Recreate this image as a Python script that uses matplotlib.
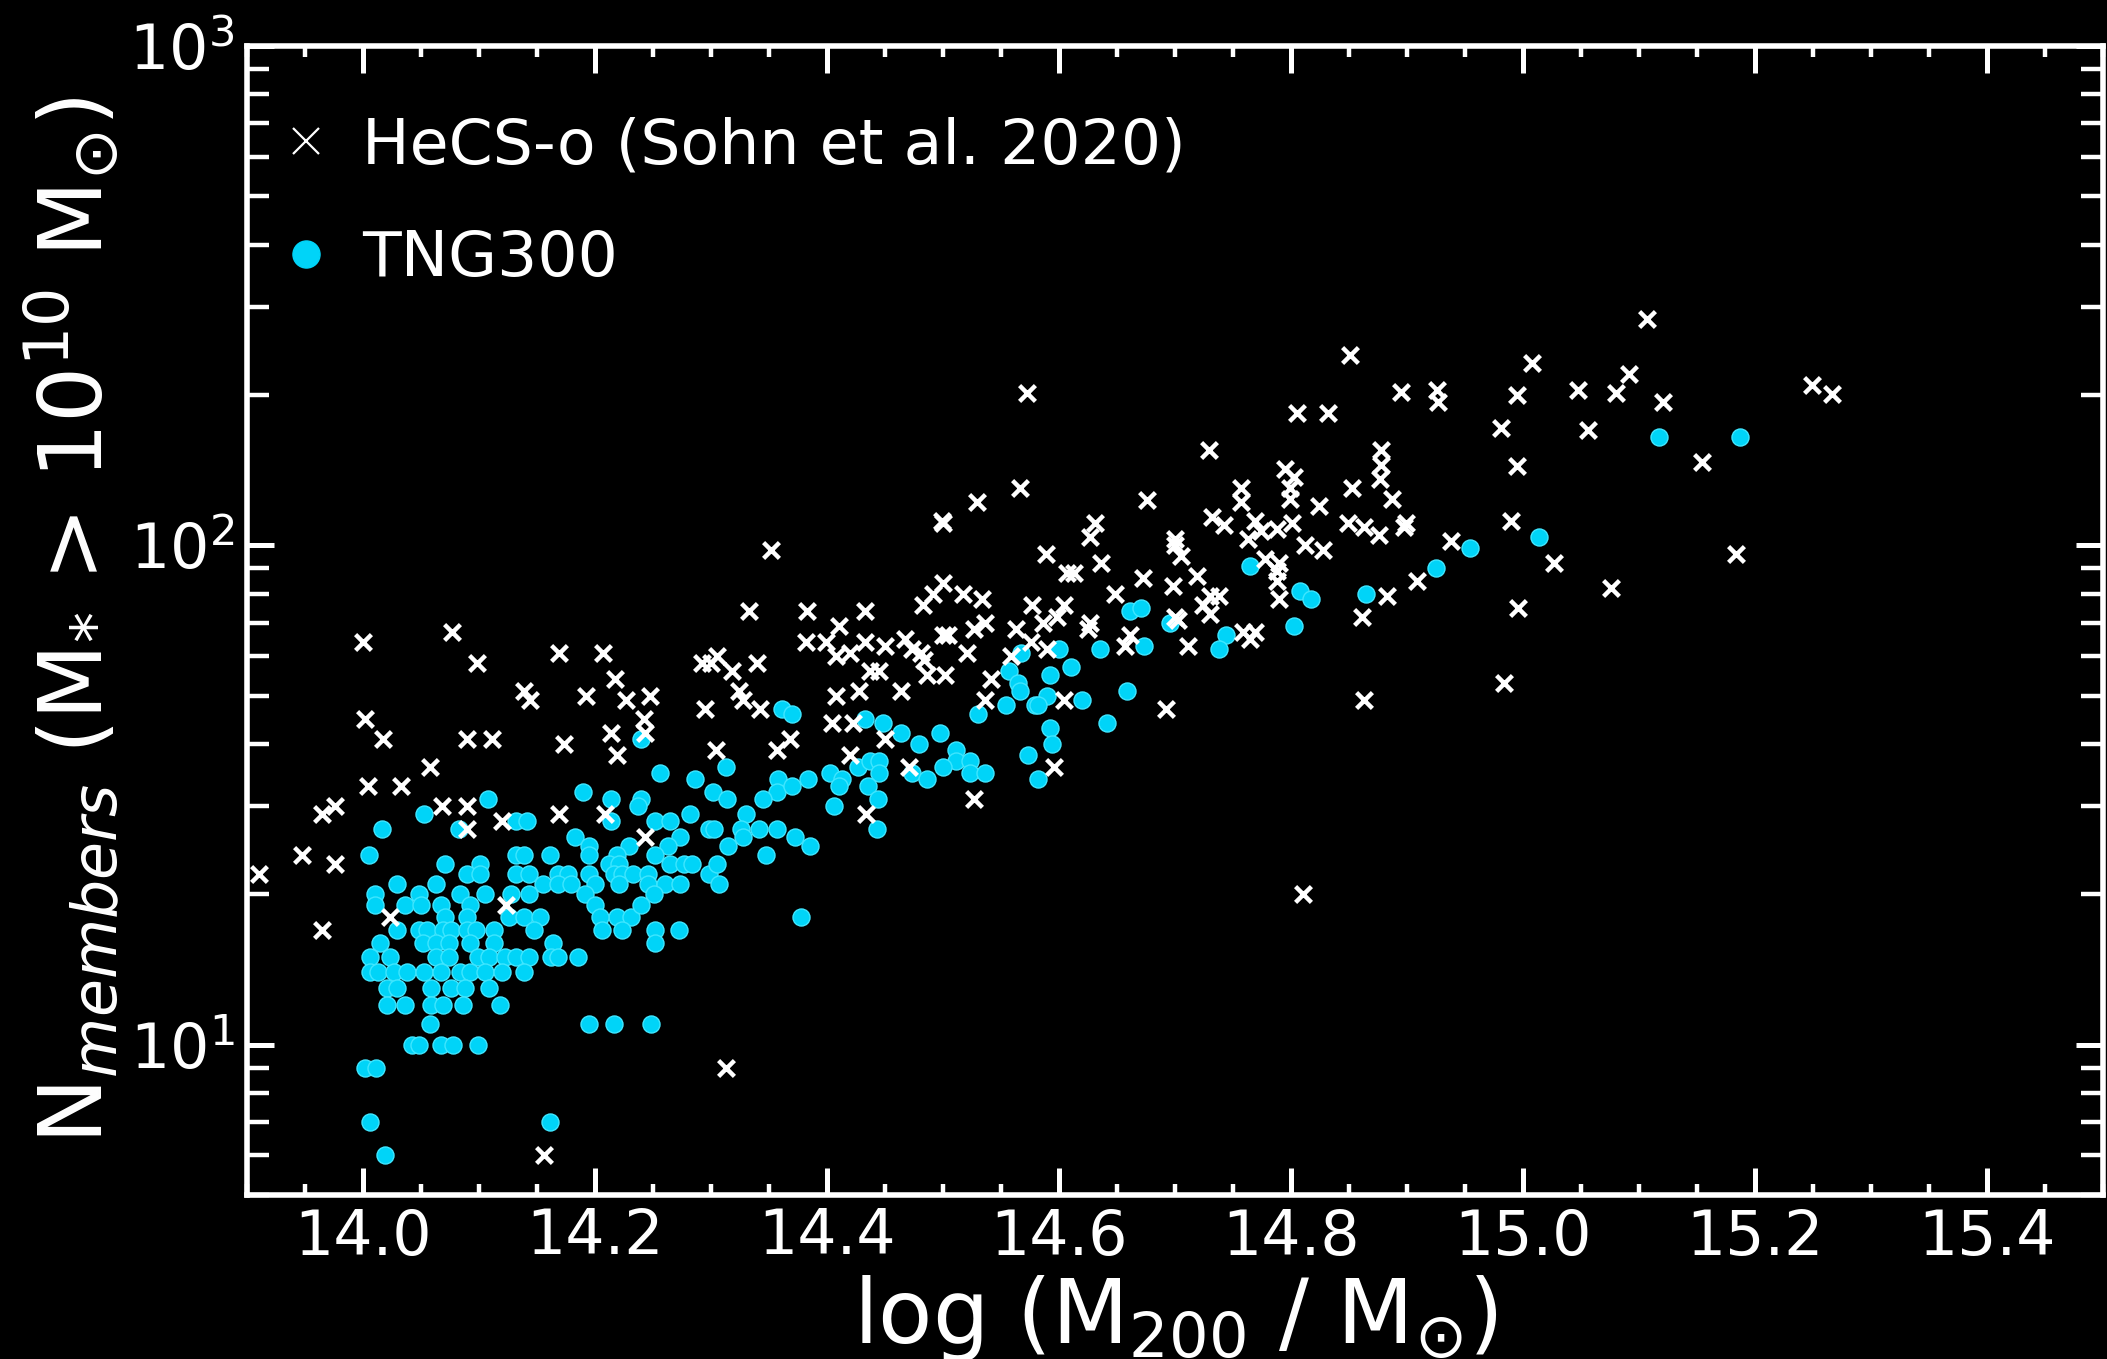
import matplotlib
matplotlib.use("Agg")
import matplotlib.pyplot as plt
from matplotlib.lines import Line2D
from matplotlib.ticker import MultipleLocator, FormatStrFormatter, NullFormatter, LogLocator

# HeCS-o (Sohn et al. 2020): log M200 and number of members
hecs_logm = [
    14.000, 14.077, 14.098, 14.169, 14.207, 14.139, 14.144, 14.192, 14.217, 14.227,
    14.247, 14.242, 14.243, 14.214, 14.219, 14.173, 14.002, 14.017, 14.090, 14.111,
    14.058, 14.004, 14.033, 13.965, 13.976, 14.068, 14.090, 14.090, 14.120, 14.169,
    14.209, 13.947, 13.976, 13.910, 13.965, 14.023, 14.123, 14.243, 14.313, 14.156,
    14.292, 14.300, 14.305, 14.318, 14.340, 14.333, 14.383, 14.433, 14.410, 14.382,
    14.399, 14.408, 14.420, 14.433, 14.450, 14.437, 14.445, 14.408, 14.428, 14.324,
    14.328, 14.342, 14.295, 14.404, 14.422, 14.368, 14.357, 14.304, 14.420, 14.450,
    14.434, 14.352,
    14.851, 14.895, 14.926, 14.927, 14.572, 14.805, 14.832, 14.729, 14.878, 14.878,
    14.877, 14.795, 14.803, 14.799, 14.799, 14.566, 14.757, 14.757, 14.853, 14.824,
    14.887, 14.529, 14.676, 14.499, 14.500, 14.631, 14.627, 14.732, 14.742, 14.769,
    14.774, 14.788, 14.801, 14.849, 14.863, 14.876, 14.897, 14.899, 14.700, 14.700,
    14.705, 14.763, 14.812, 14.828, 14.938, 14.589, 14.636, 14.607, 14.613, 14.790,
    14.788, 14.778, 14.788, 14.719, 14.672, 14.500, 14.517, 14.534, 14.909, 14.648,
    14.698, 14.790, 14.883, 14.730, 14.738, 14.724, 14.730, 14.577, 14.604, 14.598,
    14.861, 14.536, 14.527, 14.563, 14.586, 14.627, 14.625, 14.700, 14.703, 14.500,
    14.504, 14.759, 14.769, 14.765, 14.661, 14.657, 14.711, 14.576, 14.521, 14.559,
    14.590, 14.486, 14.502, 14.541, 14.536, 14.604, 14.692, 14.863, 14.596, 14.527,
    14.810, 14.491, 14.483, 14.467, 14.473, 14.481, 14.484, 14.464, 14.471,
    15.107, 15.008, 15.091, 14.995, 15.047, 15.080, 15.121, 15.249, 15.266, 14.981,
    15.056, 15.154, 14.995, 14.990, 15.027, 15.184, 15.076, 14.996, 14.984,
]
hecs_n = [
    64, 67, 58, 61, 61, 51, 49, 50, 54, 49,
    50, 45, 42, 42, 38, 40, 45, 41, 41, 41,
    36, 33, 33, 29, 30, 30, 30, 27, 28, 29,
    29, 24, 23, 22, 17, 18, 19, 26, 9, 6,
    58, 58, 60, 56, 58, 74, 74, 74, 69, 64,
    64, 60, 61, 64, 63, 56, 56, 50, 51, 51,
    49, 47, 47, 44, 44, 41, 39, 39, 38, 41,
    29, 98,
    241, 203, 205, 194, 202, 184, 184, 155, 155, 145,
    136, 142, 137, 130, 124, 130, 130, 122, 130, 120,
    124, 122, 123, 112, 111, 111, 104, 114, 110, 112,
    107, 108, 111, 111, 109, 105, 109, 111, 103, 100,
    95, 103, 100, 98, 102, 96, 92, 88, 88, 92,
    89, 94, 85, 87, 86, 84, 80, 78, 85, 80,
    83, 78, 79, 79, 79, 76, 73, 76, 76, 72,
    72, 70, 68, 68, 70, 70, 68, 72, 71, 66,
    66, 67, 67, 65, 66, 63, 63, 64, 61, 60,
    62, 55, 55, 54, 49, 49, 47, 49, 36, 31,
    20, 80, 76, 65, 62, 61, 59, 51, 36,
    284, 232, 220, 200, 205, 202, 194, 209, 201, 172,
    170, 147, 144, 112, 92, 96, 82, 75, 53,
]

# TNG300 halos
tng_logm = [
    14.361, 14.370, 14.433, 14.448, 14.240, 14.313, 14.256, 14.286, 14.384, 14.403,
    14.413, 14.410, 14.358, 14.357, 14.370, 14.427, 14.437, 14.445, 14.445, 14.435,
    14.444, 14.443, 14.190, 14.302, 14.314, 14.214, 14.108, 14.240, 14.237, 14.345,
    14.406, 14.053, 14.282, 14.330, 14.132, 14.141, 14.214, 14.252, 14.265, 14.016,
    14.083, 14.298, 14.303, 14.326, 14.341, 14.357, 14.372, 14.385, 14.328, 14.183,
    14.195, 14.273, 14.263, 14.229, 14.315, 14.252, 14.005, 14.132, 14.139, 14.161,
    14.347, 14.071, 14.101, 14.195, 14.219, 14.212, 14.221, 14.265, 14.277, 14.284,
    14.298, 14.305, 14.090, 14.101, 14.132, 14.143, 14.168, 14.177, 14.195, 14.200,
    14.216, 14.223, 14.233, 14.246, 14.029, 14.063, 14.155, 14.168, 14.179, 14.221,
    14.246, 14.260, 14.273, 14.307, 14.010, 14.048, 14.084, 14.105, 14.128, 14.143,
    14.191, 14.251, 14.010, 14.036, 14.050, 14.067, 14.092, 14.126, 14.139, 14.200,
    14.219, 14.231, 14.240, 14.071, 14.090, 14.153, 14.204, 14.378, 14.029, 14.048,
    14.055, 14.069, 14.076, 14.090, 14.097, 14.113, 14.147, 14.206, 14.223, 14.252,
    14.272, 14.015, 14.052, 14.063, 14.074, 14.092, 14.113, 14.164, 14.252, 14.006,
    14.023, 14.063, 14.074, 14.099, 14.109, 14.122, 14.132, 14.143, 14.162, 14.168,
    14.185, 14.006, 14.013, 14.027, 14.038, 14.053, 14.067, 14.084, 14.092, 14.105,
    14.120, 14.139, 14.021, 14.029, 14.059, 14.076, 14.088, 14.109, 14.021, 14.036,
    14.059, 14.069, 14.086, 14.118, 14.058, 14.195, 14.216, 14.248, 14.042, 14.048,
    14.067, 14.078, 14.099, 14.002, 14.011, 14.006, 14.161, 14.019,
    14.954, 14.925, 14.765, 14.865, 14.808, 14.817, 14.803, 14.661, 14.671, 14.696,
    14.744, 14.738, 14.600, 14.635, 14.673, 14.567, 14.557, 14.565, 14.566, 14.592,
    14.610, 14.590, 14.620, 14.659, 14.530, 14.554, 14.579, 14.582, 14.592, 14.594,
    14.641, 14.464, 14.497, 14.479, 14.511, 14.511, 14.523, 14.500, 14.523, 14.536,
    14.473, 14.486, 14.573, 14.582,
    15.117, 15.187, 15.014,
]
tng_n = [
    47, 46, 45, 44, 41, 36, 35, 34, 34, 35,
    34, 33, 34, 32, 33, 36, 37, 37, 35, 33,
    31, 27, 32, 32, 31, 31, 31, 31, 30, 31,
    30, 29, 29, 29, 28, 28, 28, 28, 28, 27,
    27, 27, 27, 27, 27, 27, 26, 25, 26, 26,
    25, 26, 25, 25, 25, 24, 24, 24, 24, 24,
    24, 23, 23, 24, 24, 23, 23, 23, 23, 23,
    22, 23, 22, 22, 22, 22, 22, 22, 22, 21,
    22, 22, 22, 22, 21, 21, 21, 21, 21, 21,
    21, 21, 21, 21, 20, 20, 20, 20, 20, 20,
    20, 20, 19, 19, 19, 19, 19, 18, 18, 19,
    18, 18, 19, 18, 18, 18, 18, 18, 17, 17,
    17, 17, 17, 17, 17, 17, 17, 17, 17, 17,
    17, 16, 16, 16, 16, 16, 16, 16, 16, 15,
    15, 15, 15, 15, 15, 15, 15, 15, 15, 15,
    15, 14, 14, 14, 14, 14, 14, 14, 14, 14,
    14, 14, 13, 13, 13, 13, 13, 13, 12, 12,
    12, 12, 12, 12, 11, 11, 11, 11, 10, 10,
    10, 10, 10, 9, 9, 7, 7, 6,
    99, 90, 91, 80, 81, 78, 69, 74, 75, 70,
    66, 62, 62, 62, 63, 61, 56, 53, 51, 55,
    57, 50, 49, 51, 46, 48, 48, 48, 43, 40,
    44, 42, 42, 40, 39, 37, 37, 36, 35, 35,
    35, 34, 38, 34,
    165, 165, 104,
]

cyan = "#00d4f8"

fig = plt.figure(figsize=(21.07, 13.59), dpi=100, facecolor="black")
ax = fig.add_axes([247 / 2107, 1 - 1195 / 1359, 1856 / 2107, 1149 / 1359])
ax.set_facecolor("black")

ax.scatter(tng_logm, tng_n, s=150, marker="o", color=cyan, edgecolors="#3fe6ff",
           linewidths=1.0, zorder=2)
ax.scatter(hecs_logm, hecs_n, s=130, marker="x", color="white", linewidths=3.2, zorder=3)

ax.set_yscale("log")
ax.set_xlim(13.9, 15.5)
ax.set_ylim(5, 1000)

ax.xaxis.set_major_locator(MultipleLocator(0.2))
ax.xaxis.set_minor_locator(MultipleLocator(0.05))
ax.xaxis.set_major_formatter(FormatStrFormatter("%.1f"))
ax.yaxis.set_major_locator(LogLocator(base=10))
ax.yaxis.set_minor_locator(LogLocator(base=10, subs=range(2, 10)))
ax.yaxis.set_minor_formatter(NullFormatter())

for sp in ax.spines.values():
    sp.set_color("white")
    sp.set_linewidth(4)

ax.tick_params(which="major", direction="in", length=19.5, width=3.6, top=True, right=True,
               colors="white", labelsize=44.5, pad=9)
ax.tick_params(axis="x", which="minor", direction="in", length=8, width=3.2, top=True,
               colors="white")
ax.tick_params(axis="y", which="minor", direction="in", length=15.5, width=3.2, right=True,
               colors="white")

ax.set_xlabel(r"log (M$_{200}$ / M$_{\odot}$)", fontsize=64, color="white", labelpad=4)
ax.set_ylabel(r"N$_{members}$ (M$_{*}$ > 10$^{10}$ M$_{\odot}$)", fontsize=63.5,
              color="white", labelpad=5.5)

handles = [
    Line2D([], [], ls="", marker="x", color="white", markersize=19, mew=1.6),
    Line2D([], [], ls="", marker="o", color=cyan, markersize=19.5),
]
leg = ax.legend(handles, ["HeCS-o (Sohn et al. 2020)", "TNG300"], loc="upper left",
                bbox_to_anchor=(0.0145, 0.939), frameon=False, fontsize=45.5,
                handlelength=1.0, handletextpad=0.4, labelspacing=0.84,
                borderaxespad=0, borderpad=0)
for t in leg.get_texts():
    t.set_color("white")

fig.savefig("out.png", dpi=100, facecolor="black")
